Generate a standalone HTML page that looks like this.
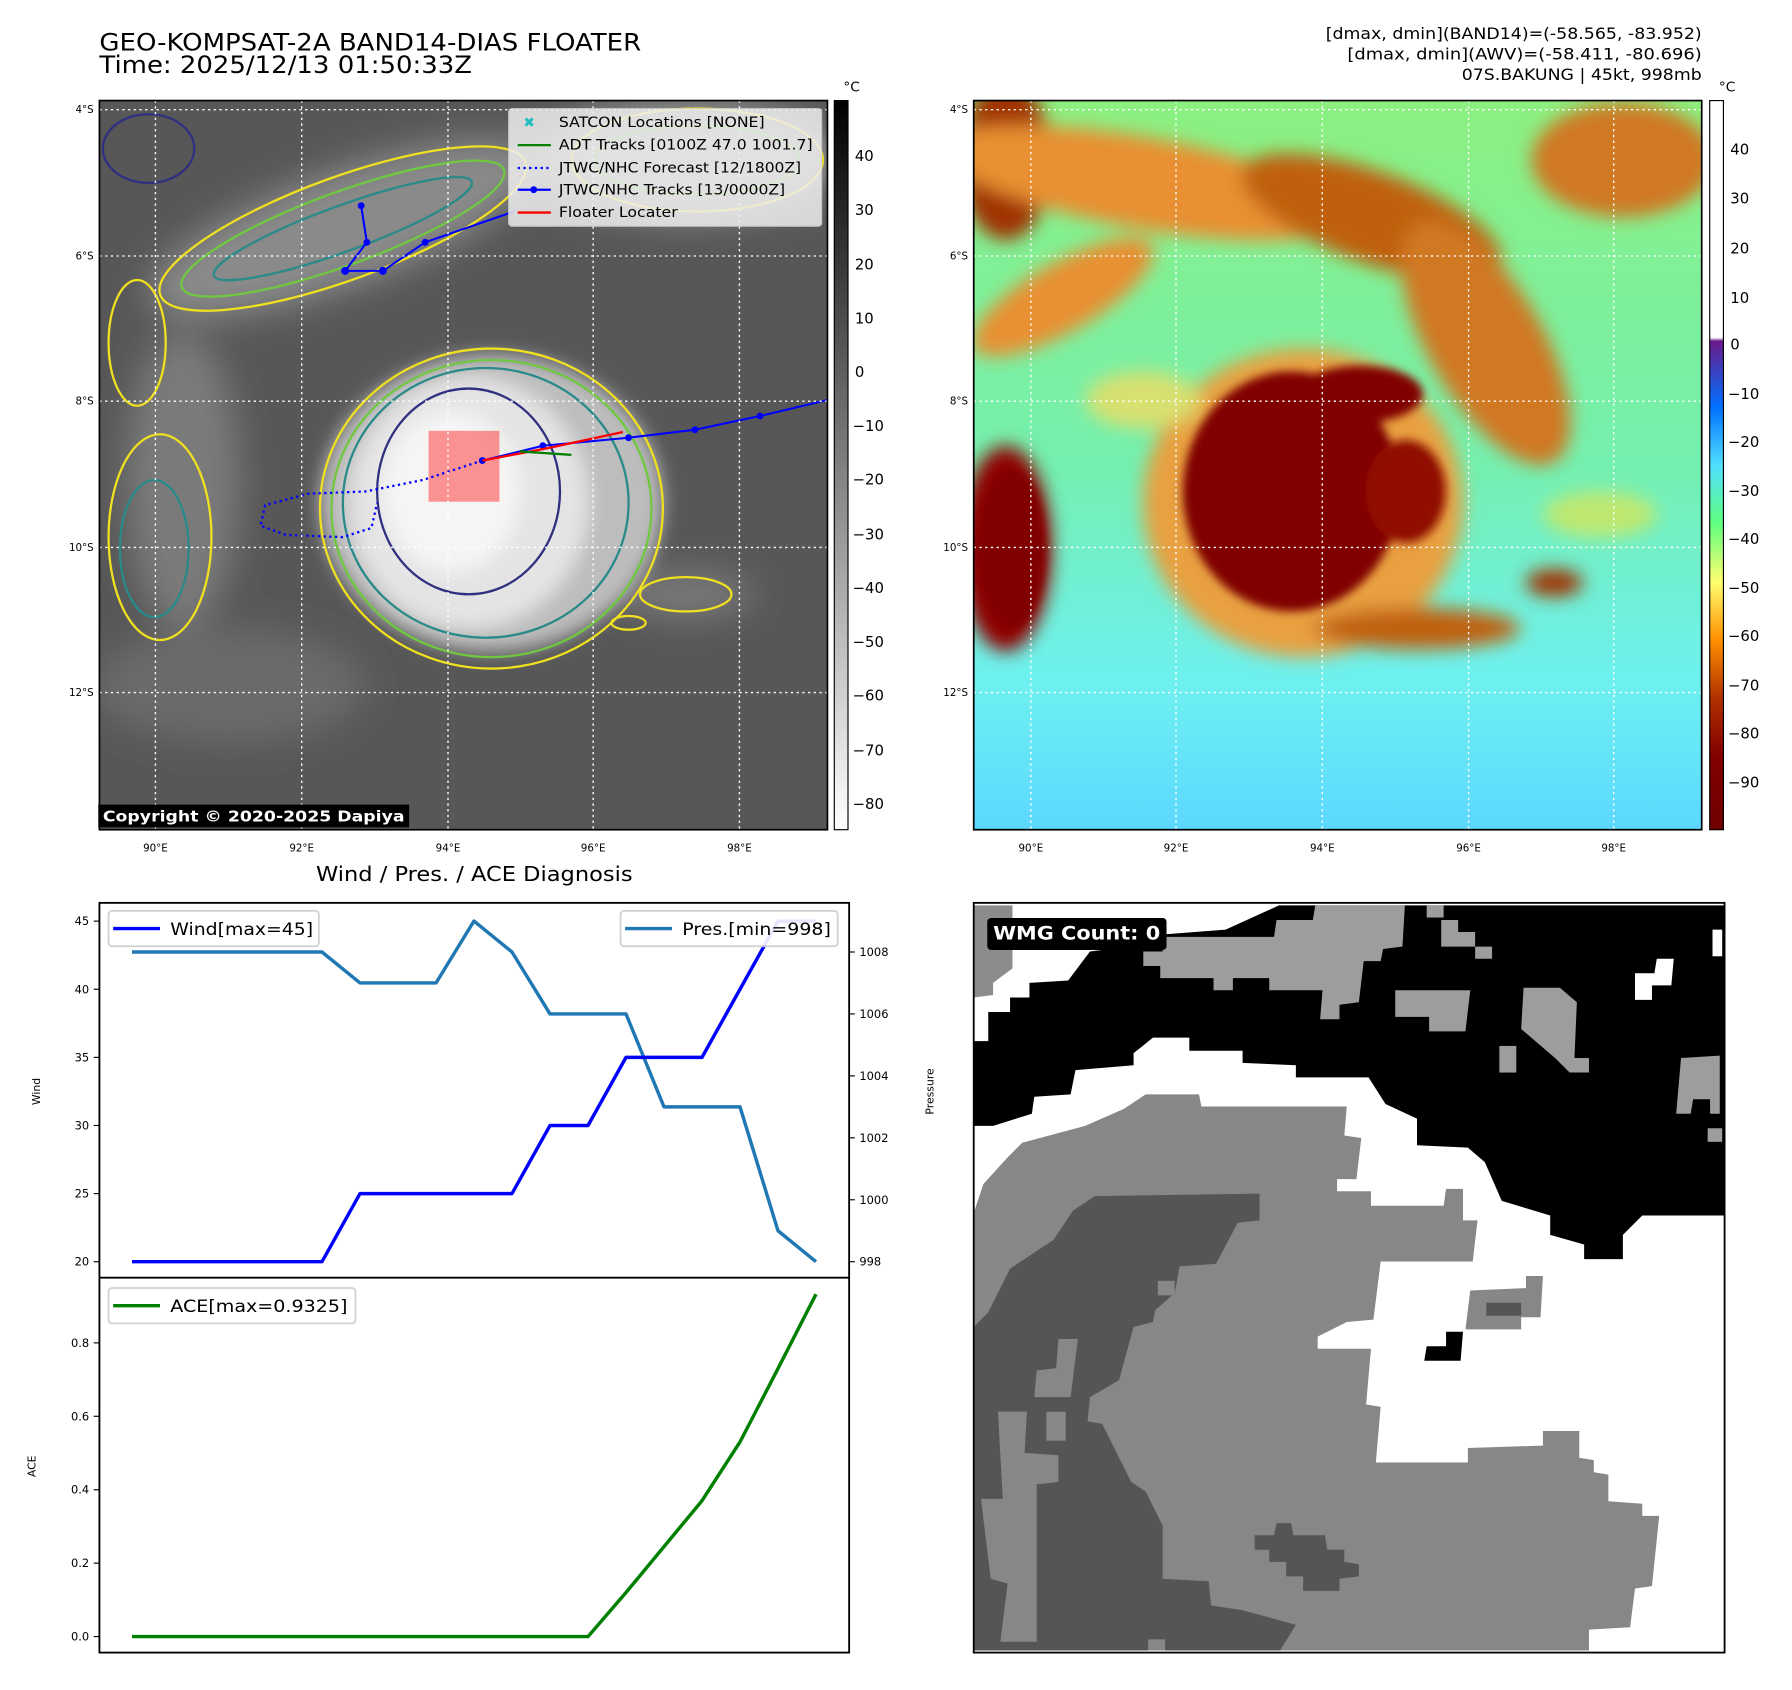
<!DOCTYPE html>
<html><head><meta charset="utf-8"><style>
html,body{margin:0;padding:0;background:#fff}
svg{display:block;font-family:"DejaVu Sans","Liberation Sans",sans-serif}
</style></head><body>
<svg width="1792" height="1690" viewBox="0 0 1568 1478.75" xmlns="http://www.w3.org/2000/svg">
<defs>
<filter id="b8" x="-50%" y="-50%" width="200%" height="200%"><feGaussianBlur stdDeviation="8"/></filter>
<filter id="b4" x="-50%" y="-50%" width="200%" height="200%"><feGaussianBlur stdDeviation="4"/></filter>
<filter id="b15" x="-50%" y="-50%" width="200%" height="200%"><feGaussianBlur stdDeviation="15"/></filter>
<clipPath id="cl"><rect x="87" y="88" width="637" height="638"/></clipPath>
<clipPath id="cr"><rect x="852" y="88" width="637" height="638"/></clipPath>
<clipPath id="cw"><rect x="0" y="0" width="1550" height="1548"/></clipPath>
<linearGradient id="gcb" x1="0" y1="0" x2="0" y2="1"><stop offset="0" stop-color="#000"/><stop offset="1" stop-color="#fff"/></linearGradient>
<linearGradient id="rbg" x1="0" y1="0" x2="0" y2="1"><stop offset="0" stop-color="#8cf080"/><stop offset="0.5" stop-color="#74f0b0"/><stop offset="0.8" stop-color="#6ef0f0"/><stop offset="1" stop-color="#5cd8ff"/></linearGradient>
<linearGradient id="rcb" x1="0" y1="0" x2="0" y2="1">
<stop offset="0" stop-color="#fff"/><stop offset="0.325" stop-color="#fff"/><stop offset="0.33" stop-color="#6a1a8a"/><stop offset="0.42" stop-color="#0070ff"/><stop offset="0.5" stop-color="#50e0ff"/><stop offset="0.58" stop-color="#60ff80"/><stop offset="0.66" stop-color="#ffff70"/><stop offset="0.74" stop-color="#ff9000"/><stop offset="0.82" stop-color="#b03000"/><stop offset="0.9" stop-color="#800000"/><stop offset="1" stop-color="#700000"/></linearGradient>
</defs>

<text x="87" y="44" font-size="21" textLength="474" lengthAdjust="spacingAndGlyphs">GEO-KOMPSAT-2A BAND14-DIAS FLOATER</text>
<text x="87" y="64" font-size="21" textLength="326" lengthAdjust="spacingAndGlyphs">Time: 2025/12/13 01:50:33Z</text>
<g font-size="14" text-anchor="end">
<text x="1489" y="34" textLength="329" lengthAdjust="spacingAndGlyphs">[dmax, dmin](BAND14)=(-58.565, -83.952)</text>
<text x="1489" y="52" textLength="310" lengthAdjust="spacingAndGlyphs">[dmax, dmin](AWV)=(-58.411, -80.696)</text>
<text x="1489" y="70" textLength="210" lengthAdjust="spacingAndGlyphs">07S.BAKUNG | 45kt, 998mb</text>
</g>

<g clip-path="url(#cl)">
<rect x="87" y="88" width="637" height="638" fill="#575757"/>
<g filter="url(#b15)" fill="#8a8a8a">
<ellipse cx="300" cy="200" rx="180" ry="50" transform="rotate(-20 300 200)"/>
<ellipse cx="160" cy="420" rx="50" ry="130" fill="#7a7a7a"/>
<ellipse cx="600" cy="520" rx="60" ry="20" fill="#7a7a7a"/>
<ellipse cx="200" cy="600" rx="120" ry="50" fill="#6a6a6a"/>
<ellipse cx="600" cy="140" rx="130" ry="50" fill="#9a9a9a"/>
</g>
<g filter="url(#b8)">
<ellipse cx="430" cy="440" rx="150" ry="130" fill="#bdbdbd"/>
<ellipse cx="410" cy="440" rx="105" ry="110" fill="#e4e4e4"/>
<ellipse cx="395" cy="430" rx="60" ry="70" fill="#f5f5f5"/>
</g>
<g fill="none" stroke-width="2">
<ellipse cx="430" cy="445" rx="150" ry="140" stroke="#f0e020"/>
<ellipse cx="430" cy="445" rx="140" ry="130" stroke="#70c840"/>
<ellipse cx="425" cy="440" rx="125" ry="118" stroke="#2a8a8a"/>
<ellipse cx="410" cy="430" rx="80" ry="90" stroke="#303080"/>
<ellipse cx="300" cy="200" rx="170" ry="45" stroke="#f0e020" transform="rotate(-20 300 200)"/>
<ellipse cx="300" cy="200" rx="150" ry="32" stroke="#70c840" transform="rotate(-20 300 200)"/>
<ellipse cx="300" cy="200" rx="120" ry="20" stroke="#2a8a8a" transform="rotate(-20 300 200)"/>
<ellipse cx="140" cy="470" rx="45" ry="90" stroke="#f0e020"/>
<ellipse cx="135" cy="480" rx="30" ry="60" stroke="#2a8a8a"/>
<ellipse cx="600" cy="520" rx="40" ry="15" stroke="#f0e020"/>
<ellipse cx="610" cy="140" rx="110" ry="45" stroke="#f0e020"/>
<ellipse cx="610" cy="140" rx="90" ry="30" stroke="#70c840"/>
<ellipse cx="550" cy="545" rx="15" ry="6" stroke="#f0e020"/>
<ellipse cx="130" cy="130" rx="40" ry="30" stroke="#303080"/>
<ellipse cx="120" cy="300" rx="25" ry="55" stroke="#f0e020"/>
</g>
<rect x="375" y="377" width="62" height="62" fill="#ff4040" opacity="0.55"/>
<polyline points="422,403 370,420 320,430 270,432 232,442 228,460 250,468 300,470 325,462 330,440" fill="none" stroke="#0000ff" stroke-width="2" stroke-dasharray="2,3"/>
<polyline points="316,180 321,212 302,237 335,237 372,212 450,185" fill="none" stroke="#0000ff" stroke-width="1.8"/>
<polyline points="422,403 475,390 550,383 608,376 665,364 724,350" fill="none" stroke="#0000ff" stroke-width="1.8"/>
<g fill="#0000ff"><circle cx="316" cy="180" r="3"/><circle cx="321" cy="212" r="3"/><circle cx="302" cy="237" r="3.5"/><circle cx="335" cy="237" r="3.5"/><circle cx="372" cy="212" r="3"/><circle cx="475" cy="390" r="3"/><circle cx="550" cy="383" r="3"/><circle cx="608" cy="376" r="3"/><circle cx="665" cy="364" r="3"/><circle cx="422" cy="403" r="3"/></g>
<polyline points="422,403 480,392 545,378" fill="none" stroke="#ff0000" stroke-width="2"/>
<polyline points="455,395 500,398" fill="none" stroke="#008000" stroke-width="2"/>
<g stroke="#fff" stroke-width="1.2" stroke-dasharray="2,3">
<line x1="136" y1="88" x2="136" y2="726"/><line x1="264" y1="88" x2="264" y2="726"/><line x1="392" y1="88" x2="392" y2="726"/><line x1="519" y1="88" x2="519" y2="726"/><line x1="647" y1="88" x2="647" y2="726"/>
<line x1="87" y1="96" x2="724" y2="96"/><line x1="87" y1="224" x2="724" y2="224"/><line x1="87" y1="351" x2="724" y2="351"/><line x1="87" y1="479" x2="724" y2="479"/><line x1="87" y1="606" x2="724" y2="606"/>
</g>
</g>
<rect x="87" y="88" width="637" height="638" fill="none" stroke="#000" stroke-width="1.5"/>
<g>
<rect x="445" y="95" width="274" height="103" rx="3" fill="#eeeeee" opacity="0.85" stroke="#d0d0d0"/>
<text x="458" y="111" font-size="12" fill="#20c0c0" font-weight="bold">✖</text>
<line x1="453" y1="127" x2="482" y2="127" stroke="#008000" stroke-width="2"/>
<line x1="453" y1="147" x2="482" y2="147" stroke="#0000ff" stroke-width="2" stroke-dasharray="2,3"/>
<line x1="453" y1="166" x2="482" y2="166" stroke="#0000ff" stroke-width="2"/><circle cx="467" cy="166" r="3" fill="#0000ff"/>
<line x1="453" y1="186" x2="482" y2="186" stroke="#ff0000" stroke-width="2"/>
<g font-size="12.5"><text x="489" y="111" textLength="180" lengthAdjust="spacingAndGlyphs">SATCON Locations [NONE]</text><text x="489" y="131" textLength="222" lengthAdjust="spacingAndGlyphs">ADT Tracks [0100Z 47.0 1001.7]</text><text x="489" y="151" textLength="212" lengthAdjust="spacingAndGlyphs">JTWC/NHC Forecast [12/1800Z]</text><text x="489" y="170" textLength="198" lengthAdjust="spacingAndGlyphs">JTWC/NHC Tracks [13/0000Z]</text><text x="489" y="190" textLength="104" lengthAdjust="spacingAndGlyphs">Floater Locater</text></g>
</g>
<g><rect x="86" y="704" width="272" height="20" fill="#000"/><text x="90" y="719" font-size="13" font-weight="bold" fill="#fff" textLength="264" lengthAdjust="spacingAndGlyphs">Copyright © 2020-2025 Dapiya</text></g>
<g font-size="9">
<text x="82" y="99" text-anchor="end">4°S</text><text x="82" y="227" text-anchor="end">6°S</text><text x="82" y="354" text-anchor="end">8°S</text><text x="82" y="482" text-anchor="end">10°S</text><text x="82" y="609" text-anchor="end">12°S</text>
<text x="136" y="745" text-anchor="middle">90°E</text><text x="264" y="745" text-anchor="middle">92°E</text><text x="392" y="745" text-anchor="middle">94°E</text><text x="519" y="745" text-anchor="middle">96°E</text><text x="647" y="745" text-anchor="middle">98°E</text>
<text x="847" y="99" text-anchor="end">4°S</text><text x="847" y="227" text-anchor="end">6°S</text><text x="847" y="354" text-anchor="end">8°S</text><text x="847" y="482" text-anchor="end">10°S</text><text x="847" y="609" text-anchor="end">12°S</text>
<text x="902" y="745" text-anchor="middle">90°E</text><text x="1029" y="745" text-anchor="middle">92°E</text><text x="1157" y="745" text-anchor="middle">94°E</text><text x="1285" y="745" text-anchor="middle">96°E</text><text x="1412" y="745" text-anchor="middle">98°E</text>
</g>
<g>
<rect x="730" y="88" width="12" height="638" fill="url(#gcb)" stroke="#000" stroke-width="1"/>
<text x="738" y="80" font-size="12">°C</text>
<g font-size="13"><text x="748" y="141">40</text><text x="748" y="188">30</text><text x="748" y="236">20</text><text x="748" y="283">10</text><text x="748" y="330">0</text><text x="746" y="377">−10</text><text x="746" y="424">−20</text><text x="746" y="472">−30</text><text x="746" y="519">−40</text><text x="746" y="566">−50</text><text x="746" y="613">−60</text><text x="746" y="661">−70</text><text x="746" y="708">−80</text></g>
</g>

<g clip-path="url(#cr)">
<rect x="852" y="88" width="637" height="638" fill="url(#rbg)"/>
<g filter="url(#b8)">
<ellipse cx="880" cy="140" rx="40" ry="70" fill="#a03000"/>
<ellipse cx="1000" cy="160" rx="180" ry="40" fill="#e89030" transform="rotate(10 1000 160)"/>
<ellipse cx="1200" cy="190" rx="120" ry="40" fill="#c06010" transform="rotate(20 1200 190)"/>
<ellipse cx="1420" cy="140" rx="80" ry="50" fill="#d07820"/>
<ellipse cx="930" cy="260" rx="90" ry="30" fill="#e89030" transform="rotate(-30 930 260)"/>
<ellipse cx="1300" cy="300" rx="50" ry="120" fill="#d07820" transform="rotate(-30 1300 300)"/>
<ellipse cx="880" cy="480" rx="40" ry="90" fill="#900000"/>
<ellipse cx="1140" cy="440" rx="140" ry="135" fill="#e8a040"/>
<ellipse cx="1240" cy="550" rx="90" ry="18" fill="#c06010"/>
<ellipse cx="1360" cy="510" rx="25" ry="12" fill="#a03000"/>
<ellipse cx="1000" cy="350" rx="50" ry="25" fill="#d8e070"/>
<ellipse cx="1400" cy="450" rx="50" ry="20" fill="#c0e870"/>
</g>
<g filter="url(#b4)">
<ellipse cx="1130" cy="430" rx="95" ry="105" fill="#800000"/>
<ellipse cx="1190" cy="345" rx="55" ry="25" fill="#800000"/>
<ellipse cx="1230" cy="430" rx="35" ry="45" fill="#901000"/>
<ellipse cx="885" cy="480" rx="30" ry="70" fill="#800000"/>
</g>
<g stroke="#fff" stroke-width="1.2" stroke-dasharray="2,3">
<line x1="902" y1="88" x2="902" y2="726"/><line x1="1029" y1="88" x2="1029" y2="726"/><line x1="1157" y1="88" x2="1157" y2="726"/><line x1="1285" y1="88" x2="1285" y2="726"/><line x1="1412" y1="88" x2="1412" y2="726"/>
<line x1="852" y1="96" x2="1489" y2="96"/><line x1="852" y1="224" x2="1489" y2="224"/><line x1="852" y1="351" x2="1489" y2="351"/><line x1="852" y1="479" x2="1489" y2="479"/><line x1="852" y1="606" x2="1489" y2="606"/>
</g>
</g>
<rect x="852" y="88" width="637" height="638" fill="none" stroke="#000" stroke-width="1.5"/>
<g>
<rect x="1496" y="88" width="12" height="638" fill="url(#rcb)" stroke="#000" stroke-width="1"/>
<text x="1504" y="80" font-size="12">°C</text>
<g font-size="13"><text x="1514" y="135">40</text><text x="1514" y="178">30</text><text x="1514" y="222">20</text><text x="1514" y="265">10</text><text x="1514" y="306">0</text><text x="1512" y="349">−10</text><text x="1512" y="391">−20</text><text x="1512" y="434">−30</text><text x="1512" y="476">−40</text><text x="1512" y="519">−50</text><text x="1512" y="561">−60</text><text x="1512" y="604">−70</text><text x="1512" y="646">−80</text><text x="1512" y="689">−90</text></g>
</g>

<g transform="translate(852,788) scale(0.4239)">
<g clip-path="url(#cw)">
<rect x="0" y="0" width="1550" height="1550" fill="#fff"/>
<polygon fill="#000" points="0,465 40,465 120,440 125,405 200,400 210,350 330,340 330,315 370,283 445,283 445,310 555,310 555,335 665,340 665,365 815,365 850,420 915,450 915,505 1020,510 1055,540 1090,620 1190,650 1190,690 1260,710 1260,740 1340,740 1340,690 1380,650 1550,650 1550,10 630,10 520,60 390,70 350,100 280,100 240,105 195,165 115,170 115,200 75,200 75,230 30,230 30,290 0,290"/>
<polygon fill="#8c8c8c" points="0,10 80,10 80,140 40,170 40,195 0,200"/>
<g fill="#9d9d9d">
<polygon points="350,105 390,105 390,75 620,75 625,40 700,40 705,10 890,10 885,95 845,100 840,125 805,125 795,210 755,215 755,245 715,245 720,185 610,185 610,160 535,160 535,185 495,185 495,160 385,160 385,135 350,135"/>
<polygon points="870,185 1025,185 1015,270 940,270 940,240 870,240"/>
<polygon points="1135,180 1210,180 1245,210 1240,325 1270,325 1270,355 1230,355 1200,325 1165,295 1130,265"/>
<rect x="1085" y="300" width="35" height="55"/>
<polygon points="1460,325 1540,320 1540,440 1520,440 1520,410 1485,410 1480,440 1450,440"/>
<rect x="1515" y="470" width="30" height="28"/>
<rect x="935" y="10" width="35" height="25"/><polygon points="965,40 1000,40 1000,65 1035,65 1035,95 1070,95 1070,120 1035,120 1035,95 965,95"/>
</g>
<g fill="#fff"><polygon points="1365,150 1405,150 1410,120 1445,120 1440,175 1400,175 1400,205 1365,205"/><rect x="1525" y="60" width="20" height="55"/></g>
<polygon fill="#878787" points="0,645 20,585 70,530 100,500 230,465 310,430 355,400 465,400 470,425 770,425 765,485 800,490 790,575 750,575 750,600 820,600 820,630 970,630 975,595 1010,595 1010,660 1040,660 1030,745 840,745 825,865 770,870 710,900 710,925 820,925 810,1040 840,1045 830,1160 1020,1160 1020,1130 1175,1125 1175,1095 1250,1095 1250,1150 1280,1155 1280,1180 1310,1185 1310,1240 1380,1245 1380,1270 1415,1270 1400,1415 1365,1420 1355,1500 1270,1505 1270,1560 0,1560"/>
<polygon fill="#555" points="0,880 30,850 75,760 120,730 165,700 205,640 250,610 590,605 590,660 545,665 500,750 425,755 415,810 375,845 370,870 330,880 300,990 240,1025 235,1075 265,1080 300,1150 325,1200 355,1220 390,1290 390,1400 485,1405 490,1455 555,1465 665,1495 625,1560 0,1560"/>
<g fill="#878787"><polygon points="175,905 215,905 200,1025 125,1025 130,970 170,965"/><rect x="150" y="1055" width="40" height="60"/><polygon points="50,1055 110,1055 105,1140 175,1145 175,1200 130,1205 130,1530 55,1530 70,1410 35,1400 15,1235 60,1235"/><polygon points="380,785 415,785 415,815 380,815"/><rect x="360" y="1525" width="35" height="40"/></g>
<polygon fill="#555" points="580,1310 620,1310 625,1285 655,1285 660,1310 725,1310 730,1340 765,1340 765,1365 795,1370 795,1395 755,1400 755,1425 680,1425 680,1395 645,1395 645,1365 610,1365 610,1340 580,1340"/>
<polygon fill="#878787" points="1025,805 1140,800 1140,775 1175,775 1170,860 1130,860 1130,885 1015,885"/>
<rect x="1058" y="830" width="72" height="27" fill="#555"/>
<polygon fill="#000" points="975,890 1010,890 1005,950 930,950 935,920 975,920"/>
</g>
<g><rect x="28" y="36" width="370" height="66" rx="8" fill="#000"/><text x="40" y="80" font-size="38" font-weight="bold" fill="#fff" textLength="345" lengthAdjust="spacingAndGlyphs">WMG Count: 0</text></g>
</g>
<rect x="852" y="790" width="657" height="656" fill="none" stroke="#000" stroke-width="1.6"/>

<text x="415" y="771" font-size="17.5" text-anchor="middle" textLength="277" lengthAdjust="spacingAndGlyphs">Wind / Pres. / ACE Diagnosis</text>
<g id="chart"></g>
<rect x="87" y="790" width="656" height="656" fill="none" stroke="#000" stroke-width="1.6"/>
<line x1="87" y1="1118" x2="743" y2="1118" stroke="#000" stroke-width="1.6"/>
</svg>
<script>
const times = [0,1,2,3,4,5,6,7,8,9,10,11,12,13,14,15,16,17,18];
const wind = [20,20,20,20,20,20,25,25,25,25,25,30,30,35,35,35,40,45,45];
const pres = [1008,1008,1008,1008,1008,1008,1007,1007,1007,1009,1008,1006,1006,1006,1003,1003,1003,999,998];
const ace = [0,0,0,0,0,0,0,0,0,0,0,0,0,0.12,0.245,0.37,0.53,0.73,0.9325];
const windTicks = [20,25,30,35,40,45];
const presTicks = [998,1000,1002,1004,1006,1008];
const aceTicks = ["0.0","0.2","0.4","0.6","0.8"];
const NS='http://www.w3.org/2000/svg';
const g=document.getElementById('chart');
const xS=i=>115.5+(714-115.5)*(i-times[0])/(times[times.length-1]-times[0]);
const yW=v=>1104+(806-1104)*(v-20)/25;
const yP=v=>1104+(833-1104)*(v-998)/10;
const yA=v=>1432+(1175-1432)*v/0.8;
function mk(t,a){const e=document.createElementNS(NS,t);for(const k in a)e.setAttribute(k,a[k]);g.appendChild(e);return e;}
function txt(x,y,s,fs,anchor,rot){const e=mk('text',{x:x,y:y,'font-size':fs,'text-anchor':anchor||'start'});if(rot)e.setAttribute('transform','rotate(-90 '+x+' '+y+')');e.textContent=s;return e;}
windTicks.forEach(v=>{const y=yW(v);
const t=mk('line',{x1:82,x2:87,y1:y,y2:y,stroke:'#000'});


const l=txt(78,y+3.5,String(v),10,'end');

});
presTicks.forEach(v=>{const y=yP(v);
const t=mk('line',{x1:743,x2:748,y1:y,y2:y,stroke:'#000'});


const l=txt(752,y+3.5,String(v),10,'start');

});
aceTicks.forEach(s=>{const y=yA(parseFloat(s));
const t=mk('line',{x1:82,x2:87,y1:y,y2:y,stroke:'#000'});


const l=txt(78,y+3.5,s,10,'end');

});
let a1=txt(35,955,'Wind',9.5,'middle',true);


let a2=txt(817,955,'Pressure',9.5,'middle',true);


let a3=txt(31,1283,'ACE',9.5,'middle',true);


function line(arr,yf,col,name){const p=mk('polyline',{points:arr.map((v,i)=>xS(times[i])+','+yf(v)).join(' '),fill:'none',stroke:col,'stroke-width':3,'stroke-linejoin':'round'});

}
line(pres,yP,'#1f77b4','pressure-line');
line(wind,yW,'#0000ff','wind-line');
line(ace,yA,'#008000','ace-line');
function legend(x,y,w,col,label,name,tl){const r=mk('rect',{x:x,y:y,width:w,height:31,rx:3,fill:'#fff',stroke:'#ccc','stroke-width':1.5,opacity:0.9});


mk('line',{x1:x+4,x2:x+45,y1:y+15.5,y2:y+15.5,stroke:col,'stroke-width':3});
const t=txt(x+54,y+21,label,15,'start');
t.setAttribute('textLength',tl);
t.setAttribute('lengthAdjust','spacingAndGlyphs');}
legend(95,797,184,'#0000ff','Wind[max=45]','wind-legend',125);
legend(543,797,190,'#1f77b4','Pres.[min=998]','pressure-legend',130);
legend(95,1127,216,'#008000','ACE[max=0.9325]','ace-legend',155);
</script>
</body></html>
